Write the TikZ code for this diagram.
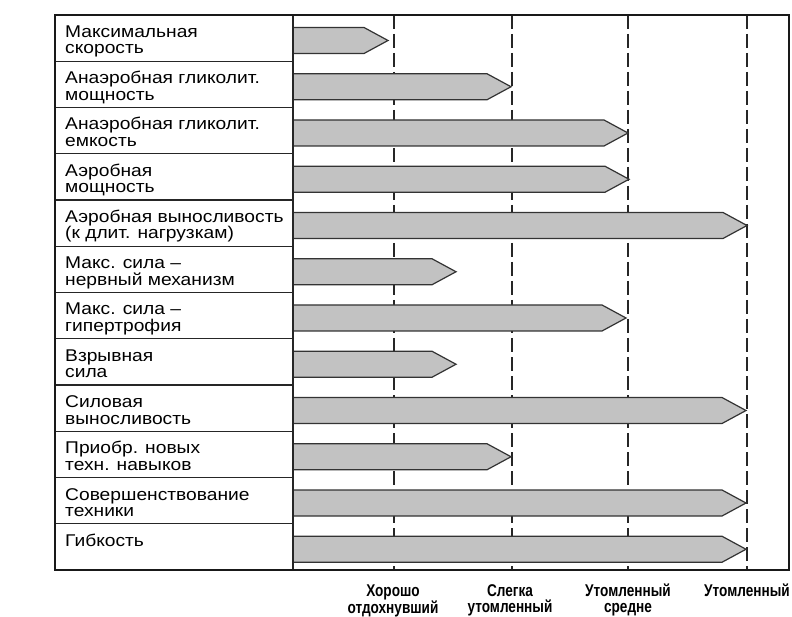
\documentclass[tikz,border=0pt]{standalone}
\usepackage{fontspec}
\setmainfont{Liberation Sans}
\newfontfamily\labfont[FakeStretch=1.13]{Liberation Sans}
\newfontfamily\axfont[FakeStretch=0.8]{Liberation Sans}
\tikzset{
  frame/.style={draw=black!90, line width=1.8pt},
  rule/.style={draw=black!85, line width=1.3pt},
  gridline/.style={draw=black!85, line width=1.4pt, dash pattern=on 14pt off 5pt},
  barshape/.style={draw=black!80, fill=black!24, line width=1.2pt, line join=miter},
  lab/.style={anchor=base west, inner sep=0pt, font=\labfont\fontsize{17}{16.5}\selectfont},
  axlab/.style={anchor=base, inner sep=0pt, font=\axfont\bfseries\fontsize{17}{16}\selectfont}
}
\begin{document}
\begin{tikzpicture}[x=1pt,y=-1pt]
\useasboundingbox[fill=white] (0,0) rectangle (792,617);
% level lines
\foreach \gx in {394,512,628,747}
  \draw[gridline] (\gx,15) -- (\gx,570);
% bars
\foreach \i/\tip in {1/388,2/511,3/628,4/629,5/747,6/456,7/626,8/456,9/746,10/511,11/746,12/746}{
  \pgfmathsetmacro\t{15+46.25*(\i-1)}
  \draw[barshape] (293,{\t+12.5}) -- ({\tip-24},{\t+12.5}) -- (\tip,{\t+25.5})
     -- ({\tip-24},{\t+38.5}) -- (293,{\t+38.5}) -- cycle;
}
% row dividers
\foreach \i in {2,...,12}{
  \pgfmathsetmacro\t{15+46.25*(\i-1)}
  \draw[rule] (55,\t) -- (293,\t);
}
\draw[rule] (293,15) -- (293,570);
\draw[frame] (55,15) rectangle (789,570);
% labels
\node[lab] (l1) at (65,37.5) {\parbox[t]{228pt}{Максимальная\\скорость}};
\node[lab] (l2) at (65,83.75) {\parbox[t]{228pt}{Анаэробная гликолит.\\мощность}};
\node[lab] (l3) at (65,130) {\parbox[t]{228pt}{Анаэробная гликолит.\\емкость}};
\node[lab] (l4) at (65,176.25) {\parbox[t]{228pt}{Аэробная\\мощность}};
\node[lab] (l5) at (65,222.5) {\parbox[t]{228pt}{Аэробная выносливость\\(к длит. нагрузкам)}};
\node[lab] (l6) at (65,268.75) {\parbox[t]{228pt}{Макс. сила –\\нервный механизм}};
\node[lab] (l7) at (65,315) {\parbox[t]{228pt}{Макс. сила –\\гипертрофия}};
\node[lab] (l8) at (65,361.25) {\parbox[t]{228pt}{Взрывная\\сила}};
\node[lab] (l9) at (65,407.5) {\parbox[t]{228pt}{Силовая\\выносливость}};
\node[lab] (l10) at (65,453.75) {\parbox[t]{228pt}{Приобр. новых\\техн. навыков}};
\node[lab] (l11) at (65,500) {\parbox[t]{228pt}{Совершенствование\\техники}};
\node[lab] (l12) at (65,546.25) {\parbox[t]{228pt}{Гибкость}};
% bottom scale labels
\node[axlab] (a1) at (393,596) {\parbox[t]{120pt}{\centering Хорошо\\отдохнувший}};
\node[axlab] (a2) at (510,596) {\parbox[t]{120pt}{\centering Слегка\\утомленный}};
\node[axlab] (a3) at (628,596) {\parbox[t]{120pt}{\centering Утомленный\\средне}};
\node[axlab] (a4) at (747,596) {\parbox[t]{120pt}{\centering Утомленный}};
\end{tikzpicture}
\end{document}
